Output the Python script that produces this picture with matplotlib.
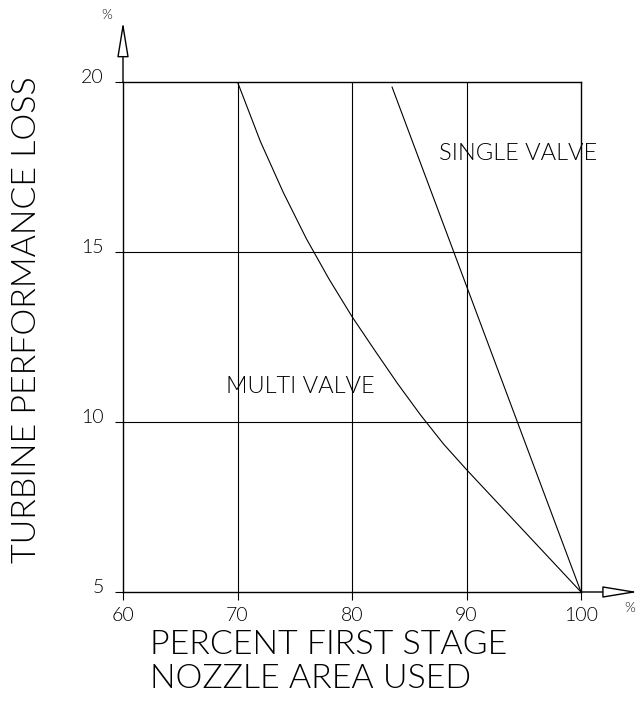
import matplotlib.pyplot as plt
import matplotlib.transforms as mtransforms
import numpy as np

# nozzle area used (%) vs turbine performance loss (%)
single_x = [83.5, 100.0]
single_y = [19.85, 5.0]

multi_x = [70.0, 72.0, 74.0, 76.0, 78.0, 80.0, 82.0, 84.0, 86.0, 88.0, 90.0, 95.0, 100.0]
multi_y = [20.0, 18.25, 16.75, 15.4, 14.2, 13.1, 12.1, 11.12, 10.2, 9.35, 8.6, 6.8, 5.0]

x_ticks = [60, 70, 80, 90, 100]
y_ticks = [5, 10, 15, 20]
x_ticklabels = ["60", "70", "80", "90", "100"]
y_ticklabels = ["5", "10", "15", "20"]

plt.rcParams['font.family'] = ['Lato', 'DejaVu Sans']
plt.rcParams['font.weight'] = 300

fig = plt.figure(figsize=(6.41, 7.02), dpi=100)
ax = fig.add_axes([0.1919, 0.1567, 0.7145, 0.7265])
ax.set_xlim(60, 100)
ax.set_ylim(5, 20)

# grid lines
for xv in x_ticks[1:-1]:
    ax.axvline(xv, color='black', lw=0.8)
for yv in y_ticks[1:-1]:
    ax.axhline(yv, color='black', lw=0.8)

ax.plot(single_x, single_y, color='black', lw=0.8)
ax.plot(multi_x, multi_y, color='black', lw=0.8)

for sp in ax.spines.values():
    sp.set_linewidth(1.0)

ax.set_xticks(x_ticks)
ax.set_xticklabels(x_ticklabels, fontsize=14)
ax.set_yticks(y_ticks)
ax.set_yticklabels(y_ticklabels, fontsize=14)
ax.tick_params(direction='out', length=6, width=0.8, pad=5)
ax.tick_params(axis='y', pad=8)
shift = mtransforms.ScaledTranslation(0, 4 / 72, fig.dpi_scale_trans)
for lab in ax.get_yticklabels():
    lab.set_transform(lab.get_transform() + shift)

# axis arrows with hollow heads
arrow = dict(arrowstyle='-|>,head_length=1.1,head_width=0.18', fc='white',
             ec='black', lw=1.0, mutation_scale=20, shrinkA=0, shrinkB=0)
ax.annotate('', xy=(0, 1.118), xytext=(0, 1.0), xycoords='axes fraction',
            arrowprops=arrow, annotation_clip=False)
ax.annotate('', xy=(1.124, 0), xytext=(1.0, 0), xycoords='axes fraction',
            arrowprops=arrow, annotation_clip=False)
fig.text(107 / 641, 1 - 15 / 702, '%', fontsize=10, ha='center', va='center')
fig.text(630 / 641, 1 - 608 / 702, '%', fontsize=10, ha='center', va='center')

ax.text(87.6, 17.9, 'SINGLE VALVE', fontsize=17, va='center', ha='left')
ax.text(69.0, 11.05, 'MULTI VALVE', fontsize=17, va='center', ha='left')

fig.text(27 / 641, 1 - 320 / 702, 'TURBINE PERFORMANCE LOSS', fontsize=24.5,
         rotation=90, ha='center', va='center')
fig.text(150 / 641, 1 - 662 / 702, 'PERCENT FIRST STAGE\nNOZZLE AREA USED',
         fontsize=24.5, ha='left', va='center', linespacing=1.15)

fig.savefig('out.png', dpi=100)
